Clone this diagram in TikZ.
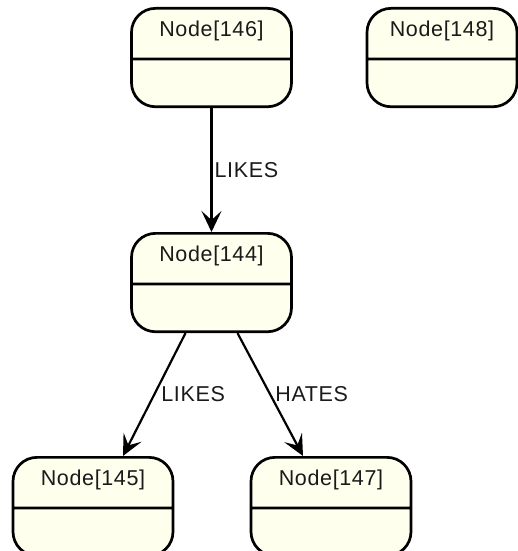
\documentclass[tikz,border=0pt]{standalone}
\usepackage{fontspec}
\setmainfont{Liberation Sans}[LetterSpace=3]
\usetikzlibrary{arrows.meta,shapes.multipart}
\definecolor{cream}{HTML}{FFFFEE}
\definecolor{ink}{HTML}{1A1A1A}

\begin{document}
\begin{tikzpicture}[x=1pt, y=-1pt,
    every node/.style={font=\fontsize{21.5}{25}\selectfont, text=ink},
    entity/.style={rectangle split, rectangle split parts=2, draw=black, line width=2.7pt, fill=cream, rounded corners=24pt, minimum width=160pt, inner xsep=0pt, inner ysep=0pt, anchor=north},
    rel/.style={-{Stealth[length=21pt, width=20pt, inset=9pt]}, line width=2.2pt},
    lbl/.style={right, inner sep=2pt}
]
\useasboundingbox (0,0) rectangle (518,551);
\node[entity] (N146) at (211.5, 7) {\rule[-21.5pt]{0pt}{48pt}Node[146]\nodepart{two}\rule{0pt}{45pt}};
\node[entity, minimum width=150pt] (N148) at (442, 7) {\rule[-21.5pt]{0pt}{48pt}Node[148]\nodepart{two}\rule{0pt}{45pt}};
\node[entity] (N144) at (211.5, 232) {\rule[-21.5pt]{0pt}{48pt}Node[144]\nodepart{two}\rule{0pt}{45pt}};
\node[entity] (N145) at (93, 456) {\rule[-21.5pt]{0pt}{48pt}Node[145]\nodepart{two}\rule{0pt}{45pt}};
\node[entity] (N147) at (331, 456) {\rule[-21.5pt]{0pt}{48pt}Node[147]\nodepart{two}\rule{0pt}{45pt}};
\draw[rel] (N146.south) -- node[lbl] {LIKES} (N144.north);
\draw[rel] ([xshift=-26pt]N144.south) -- node[lbl, xshift=4pt] {LIKES} ([xshift=30pt]N145.north);
\draw[rel] ([xshift=26pt]N144.south) -- node[lbl, xshift=2pt] {HATES} ([xshift=-28pt]N147.north);
\end{tikzpicture}
\end{document}
